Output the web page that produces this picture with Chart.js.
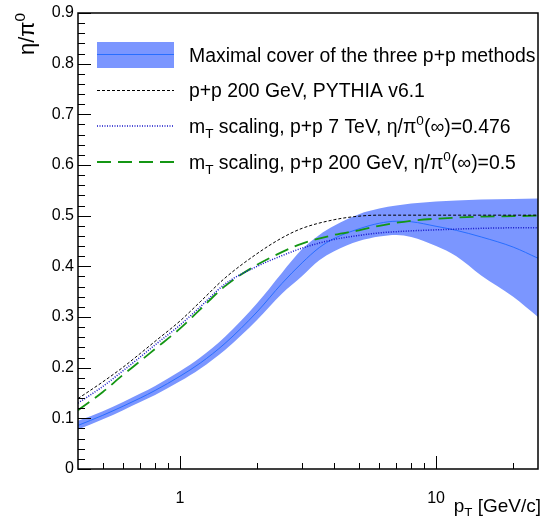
<!DOCTYPE html>
<html lang="en">
<head>
<meta charset="UTF-8">
<title>eta/pi0 ratio</title>
<script src="https://cdn.jsdelivr.net/npm/chart.js"></script>
<style>
  html, body { margin: 0; padding: 0; background: #fff; }
</style>
</head>
<body>
<canvas id="ratioChart" width="544" height="516"></canvas>
<script>
// band: maximal cover of the three p+p methods
const ptBand = [0.4, 0.5, 0.6, 0.7, 0.8, 1, 1.2, 1.5, 2, 2.5, 3, 3.5, 4, 5, 6, 7, 8, 10, 12, 15, 20, 25];
const bandMid = [0.086, 0.106, 0.124, 0.140, 0.155, 0.183, 0.209, 0.248, 0.310, 0.366, 0.407, 0.437, 0.455, 0.474, 0.485, 0.489, 0.488, 0.479, 0.471, 0.458, 0.438, 0.416];
const bandHigh = [0.095, 0.114, 0.132, 0.149, 0.164, 0.193, 0.220, 0.261, 0.327, 0.387, 0.434, 0.462, 0.480, 0.503, 0.514, 0.520, 0.524, 0.528, 0.530, 0.532, 0.533, 0.534];
const bandLow = [0.078, 0.098, 0.116, 0.132, 0.146, 0.173, 0.198, 0.235, 0.294, 0.346, 0.381, 0.412, 0.430, 0.450, 0.459, 0.462, 0.458, 0.440, 0.420, 0.382, 0.340, 0.300];

// curves
const ptCurves = [0.4, 0.5, 0.6, 0.7, 0.8, 1, 1.2, 1.5, 2, 2.5, 3, 4, 5, 6, 8, 10, 15, 20, 25];
const pythia200 = [0.139, 0.172, 0.201, 0.228, 0.252, 0.292, 0.330, 0.377, 0.425, 0.456, 0.475, 0.492, 0.499, 0.501, 0.501, 0.501, 0.501, 0.501, 0.501];
const mtScaling7TeV = [0.130, 0.163, 0.194, 0.221, 0.245, 0.284, 0.320, 0.365, 0.400, 0.421, 0.436, 0.453, 0.461, 0.466, 0.470, 0.472, 0.475, 0.476, 0.476];
const mtScaling200GeV = [0.116, 0.152, 0.186, 0.213, 0.237, 0.277, 0.315, 0.361, 0.403, 0.428, 0.445, 0.462, 0.471, 0.480, 0.490, 0.494, 0.498, 0.499, 0.500];

// axes
const xMajorTicks = [1, 10];
const xMinorTicks = [0.5, 0.6, 0.7, 0.8, 0.9, 2, 3, 4, 5, 6, 7, 8, 9, 20];
const yMajorTicks = [0, 0.1, 0.2, 0.3, 0.4, 0.5, 0.6, 0.7, 0.8, 0.9];

const FONT = '"Liberation Sans", Arial, Helvetica, sans-serif';
const BAND_COLOR = 'rgb(123,150,255)';
const MID_COLOR = 'rgb(40,110,255)';
const GREEN = 'rgb(20,150,20)';
const NAVY = 'rgb(20,20,200)';

const pts = (xs, ys) => xs.map((x, i) => ({ x: x, y: ys[i] }));

// draws text with sub/superscripts; parts = [[text, 0|1|2]] (0 normal, 1 sub, 2 sup)
function richWidth(ctx, parts, size) {
    let w = 0;
    parts.forEach(([t, m]) => {
        ctx.font = (m ? size * 0.7 : size) + 'px ' + FONT;
        w += ctx.measureText(t).width;
    });
    return w;
}
function drawRich(ctx, parts, x, y, size) {
    let cx = x;
    parts.forEach(([t, m]) => {
        const s = m ? size * 0.7 : size;
        ctx.font = s + 'px ' + FONT;
        const dy = m === 1 ? size * 0.28 : (m === 2 ? -size * 0.42 : 0);
        ctx.fillText(t, cx, y + dy);
        cx += ctx.measureText(t).width;
    });
}

const rootFrame = {
    id: 'rootFrame',
    afterDraw(chart) {
        const ctx = chart.ctx;
        const a = chart.chartArea;
        const xs = chart.scales.x, ys = chart.scales.y;
        ctx.save();
        ctx.strokeStyle = '#000';
        ctx.lineWidth = 1;
        ctx.beginPath();
        // y ticks (inside)
        for (let k = 0; k <= 45; k++) {
            const v = k * 0.02;
            const major = k % 5 === 0;
            const py = Math.round(ys.getPixelForValue(v)) + 0.5;
            ctx.moveTo(a.left, py);
            ctx.lineTo(a.left + (major ? 13 : 7), py);
        }
        xMajorTicks.forEach(v => {
            const px = Math.round(xs.getPixelForValue(v)) + 0.5;
            ctx.moveTo(px, a.bottom);
            ctx.lineTo(px, a.bottom - 13);
        });
        xMinorTicks.forEach(v => {
            const px = Math.round(xs.getPixelForValue(v)) + 0.5;
            ctx.moveTo(px, a.bottom);
            ctx.lineTo(px, a.bottom - 6);
        });
        ctx.stroke();
        ctx.lineWidth = 1.5;
        ctx.strokeRect(a.left, a.top, a.right - a.left, a.bottom - a.top);

        // axis titles
        ctx.fillStyle = '#000';
        ctx.textBaseline = 'alphabetic';
        const xt = [['p', 0], ['T', 1], [' [GeV/c]', 0]];
        const xw = richWidth(ctx, xt, 19);
        drawRich(ctx, xt, 541 - xw, 512, 19);

        const yt = [['η/π', 0], ['0', 2]];
        const yw = richWidth(ctx, yt, 22);
        ctx.translate(34, a.top);
        ctx.rotate(-Math.PI / 2);
        drawRich(ctx, yt, -yw, 0, 22);
        ctx.restore();

        // legend
        ctx.save();
        const lx0 = 97, lx1 = 174, tx = 189;
        ctx.fillStyle = BAND_COLOR;
        ctx.fillRect(lx0, 42, lx1 - lx0, 26);
        ctx.strokeStyle = MID_COLOR;
        ctx.lineWidth = 1;
        ctx.beginPath(); ctx.moveTo(lx0, 54.5); ctx.lineTo(lx1, 54.5); ctx.stroke();

        const sample = (y, color, dash, w) => {
            ctx.strokeStyle = color;
            ctx.lineWidth = w;
            ctx.setLineDash(dash);
            ctx.beginPath(); ctx.moveTo(lx0, y); ctx.lineTo(lx1, y); ctx.stroke();
            ctx.setLineDash([]);
        };
        sample(90.5, '#000', [3, 2], 1);
        sample(126, NAVY, [1, 1.5], 1.5);
        sample(162, GREEN, [14, 7], 1.8);

        ctx.fillStyle = '#000';
        const fs = 19.4;
        drawRich(ctx, [['Maximal cover of the three p+p methods', 0]], tx, 62, fs);
        drawRich(ctx, [['p+p 200 GeV, PYTHIA v6.1', 0]], tx, 97, fs);
        drawRich(ctx, [['m', 0], ['T', 1], [' scaling, p+p 7 TeV, η/π', 0], ['0', 2], ['(∞)=0.476', 0]], tx, 133, fs);
        drawRich(ctx, [['m', 0], ['T', 1], [' scaling, p+p 200 GeV, η/π', 0], ['0', 2], ['(∞)=0.5', 0]], tx, 169, fs);
        ctx.restore();
    }
};

const ctx = document.getElementById('ratioChart').getContext('2d');
new Chart(ctx, {
    type: 'line',
    data: {
        datasets: [
            {
                label: 'band high',
                data: pts(ptBand, bandHigh),
                borderWidth: 0,
                pointRadius: 0,
                backgroundColor: BAND_COLOR,
                fill: '+1',
                cubicInterpolationMode: 'monotone',
                order: 10
            },
            {
                label: 'band low',
                data: pts(ptBand, bandLow),
                borderWidth: 0,
                pointRadius: 0,
                fill: false,
                cubicInterpolationMode: 'monotone',
                order: 11
            },
            {
                label: 'Maximal cover of the three p+p methods',
                data: pts(ptBand, bandMid),
                borderColor: MID_COLOR,
                borderWidth: 1,
                pointRadius: 0,
                fill: false,
                cubicInterpolationMode: 'monotone',
                order: 5
            },
            {
                label: 'p+p 200 GeV, PYTHIA v6.1',
                data: pts(ptCurves, pythia200),
                borderColor: '#000',
                borderWidth: 1,
                borderDash: [3, 2],
                pointRadius: 0,
                fill: false,
                cubicInterpolationMode: 'monotone',
                order: 1
            },
            {
                label: 'mT scaling, p+p 7 TeV',
                data: pts(ptCurves, mtScaling7TeV),
                borderColor: NAVY,
                borderWidth: 1.5,
                borderDash: [1, 1.5],
                pointRadius: 0,
                fill: false,
                cubicInterpolationMode: 'monotone',
                order: 2
            },
            {
                label: 'mT scaling, p+p 200 GeV',
                data: pts(ptCurves, mtScaling200GeV),
                borderColor: GREEN,
                borderWidth: 1.8,
                borderDash: [14, 7],
                pointRadius: 0,
                fill: false,
                cubicInterpolationMode: 'monotone',
                order: 3
            }
        ]
    },
    options: {
        responsive: false,
        animation: false,
        devicePixelRatio: 1,
        layout: { padding: { top: 13, right: 6, left: 0, bottom: 0 } },
        plugins: {
            legend: { display: false },
            tooltip: { enabled: false }
        },
        scales: {
            x: {
                type: 'logarithmic',
                min: 0.4,
                max: 25,
                grid: { display: false, drawTicks: false },
                border: { display: false },
                afterFit: s => { s.height = 47; s.paddingLeft = 0; s.paddingRight = 0; },
                ticks: {
                    autoSkip: false,
                    maxRotation: 0,
                    padding: 20,
                    color: '#000',
                    font: { family: FONT, size: 16 },
                    callback: v => xMajorTicks.some(t => Math.abs(t - v) < 1e-6) ? String(v) : ''
                }
            },
            y: {
                type: 'linear',
                min: 0,
                max: 0.9,
                grid: { display: false, drawTicks: false },
                border: { display: false },
                afterFit: s => { s.width = 78; s.paddingTop = 0; s.paddingBottom = 0; },
                afterBuildTicks: s => { s.ticks = yMajorTicks.map(v => ({ value: v })); },
                ticks: {
                    padding: 4,
                    color: '#000',
                    font: { family: FONT, size: 16 },
                    callback: v => String(Math.round(v * 10) / 10)
                }
            }
        }
    },
    plugins: [rootFrame]
});
</script>
</body>
</html>
